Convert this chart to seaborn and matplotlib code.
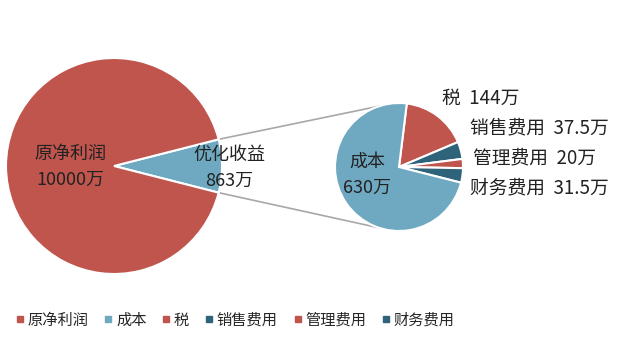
import numpy as np
import matplotlib
matplotlib.use("Agg")
import matplotlib.pyplot as plt
from matplotlib.lines import Line2D
import seaborn as sns

# data
main_labels = ['原净利润', '优化收益']
main_values = [10000, 863]
detail_labels = ['税', '销售费用', '管理费用', '财务费用', '成本']
detail_values = [144, 37.5, 20, 31.5, 630]
legend_labels = ['原净利润', '成本', '税', '销售费用', '管理费用', '财务费用']

red = '#C0554E'
blue = '#6EA9C1'
teal = '#2F6379'
detail_colors = [red, teal, red, teal, blue]
legend_colors = [red, blue, red, teal, red, teal]

sns.set_theme(style='white')
plt.rcParams['font.family'] = ['Noto Sans CJK SC', 'DejaVu Sans']

fig = plt.figure(figsize=(6.36, 3.52), dpi=100)
ax = fig.add_axes([0, 0, 1, 1])

# big pie (blue slice centred on the right)
big_c, big_r = (114, 186), 108
half = 360 * main_values[1] / sum(main_values) / 2
ax.pie(main_values[::-1], colors=[blue, red], startangle=-half, center=big_c,
       radius=big_r, wedgeprops=dict(edgecolor='white', linewidth=1.5))

# small pie
small_c, small_r = (399, 185), 64
ax.pie(detail_values, colors=detail_colors, startangle=83, counterclock=False,
       center=small_c, radius=small_r,
       wedgeprops=dict(edgecolor='white', linewidth=1.5))

# connector lines
a = np.deg2rad(half)
b = np.deg2rad(108)
for s in (1, -1):
    x0 = big_c[0] + big_r * np.cos(a)
    y0 = big_c[1] + s * big_r * np.sin(a)
    x1 = small_c[0] + small_r * np.cos(b)
    y1 = small_c[1] + s * small_r * np.sin(b)
    ax.plot([x0, x1], [y0, y1], color='#A8A8A8', lw=1.2, zorder=0)

fs = 13
txt = '#222222'
ax.text(70, 185, f'{main_labels[0]}\n{main_values[0]}万', ha='center', va='center',
        fontsize=fs, linespacing=1.6, color=txt)
ax.text(229, 184, f'{main_labels[1]}\n{main_values[1]}万', ha='center', va='center',
        fontsize=fs, linespacing=1.6, color=txt)
ax.text(367, 177, f'{detail_labels[4]}\n{detail_values[4]:g}万', ha='center', va='center',
        fontsize=fs, linespacing=1.6, color=txt)

label_pos = [(442, 254), (470, 224), (473, 194), (470, 164)]
for (x, y), lab, v in zip(label_pos, detail_labels[:4], detail_values[:4]):
    ax.text(x, y, f'{lab}  {v:g}万', ha='left', va='center', fontsize=13.5, color=txt)

ax.set_xlim(0, 636)
ax.set_ylim(0, 352)
ax.set_aspect('equal')
ax.axis('off')

handles = [Line2D([], [], marker='s', linestyle='none', markersize=5, color=c)
           for c in legend_colors]
fig.legend(handles, legend_labels, ncol=6, loc='center left', bbox_to_anchor=(0.0, 0.09),
           frameon=False, fontsize=11, handletextpad=0.1, columnspacing=0.9,
           handlelength=0.8)

fig.savefig('out.png', dpi=100)
